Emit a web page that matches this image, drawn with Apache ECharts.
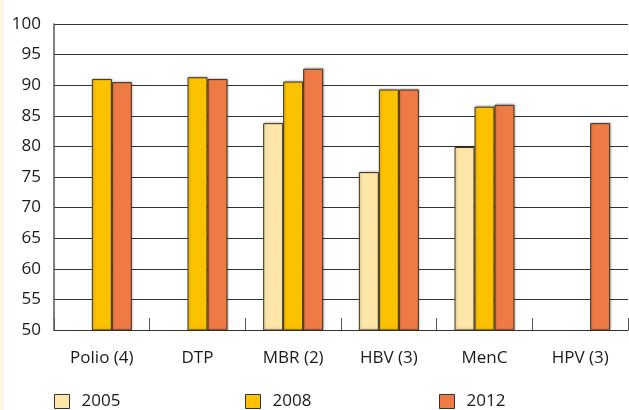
<!DOCTYPE html>
<html><head><meta charset="utf-8">
<script src="https://cdn.jsdelivr.net/npm/echarts@6/dist/echarts.min.js"></script>
<style>
html,body{margin:0;padding:0;background:#fff;}
#strip{position:absolute;left:0;top:0;width:4px;height:410px;background:#fdf5e4;}
#c{position:absolute;left:0;top:0;width:629px;height:410px;}
</style></head>
<body><div id="strip"></div><div id="c"></div>
<script>
const categories = ['Polio (4)', 'DTP', 'MBR (2)', 'HBV (3)', 'MenC', 'HPV (3)'];
const s2005 = [null, null, 83.8, 75.8, 79.9, null];
const s2008 = [91.0, 91.3, 90.6, 89.3, 86.5, null];
const s2012 = [90.5, 91.0, 92.7, 89.3, 86.8, 83.8];
const yTicks = [50, 55, 60, 65, 70, 75, 80, 85, 90, 95, 100];
const seriesNames = ['2005', '2008', '2012'];
const colors = ['#fde6a8', '#fcc200', '#ee7b46'];

const font = "'Open Sans', 'Noto Sans', sans-serif";
const chart = echarts.init(document.getElementById('c'), null, {renderer: 'canvas'});
const data = [s2005, s2008, s2012];
const legendLeft = [54, 245, 439];
chart.setOption({
  animation: false,
  textStyle: {fontFamily: font},
  grid: {left: 54, right: 1, top: 24, bottom: 80},
  legend: seriesNames.map((n, i) => ({
    data: [n], left: legendLeft[i], top: 393, itemWidth: 15, itemHeight: 14,
    padding: 0, itemGap: 10, icon: 'rect',
    itemStyle: {borderColor: '#333', borderWidth: 1},
    textStyle: {fontSize: 17, color: '#1a1a1a', fontFamily: font, padding: [0, 0, 0, 7]}
  })),
  xAxis: {
    type: 'category', data: categories,
    axisLine: {lineStyle: {color: '#333', width: 1}},
    axisTick: {show: true, inside: true, length: 12, lineStyle: {color: '#555', width: 1}},
    axisLabel: {fontSize: 17, color: '#1a1a1a', margin: 20, fontFamily: font}
  },
  yAxis: {
    type: 'value', min: yTicks[0], max: yTicks[yTicks.length - 1], interval: 5,
    axisLine: {show: true, lineStyle: {color: '#555', width: 1.5}},
    axisTick: {show: false},
    axisLabel: {fontSize: 17, color: '#1a1a1a', margin: 13, fontFamily: font},
    splitLine: {lineStyle: {color: '#333', width: 1}}
  },
  series: seriesNames.map((n, i) => ({
    name: n, type: 'bar', data: data[i], barWidth: 20, barGap: '0%',
    itemStyle: {color: colors[i], borderColor: '#3a3020', borderWidth: 1,
      shadowColor: 'rgba(0,0,0,0.2)', shadowBlur: 2, shadowOffsetX: 1, shadowOffsetY: -1}
  }))
});
</script></body></html>
